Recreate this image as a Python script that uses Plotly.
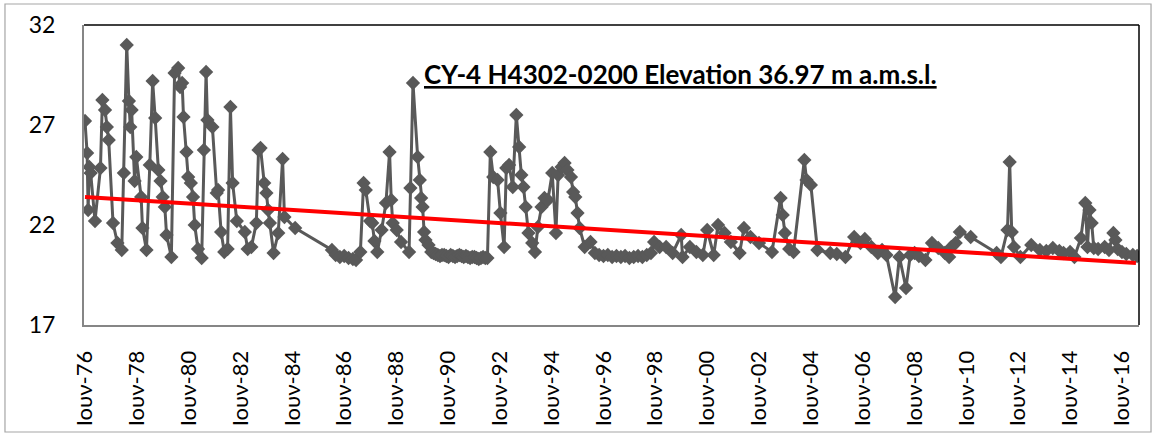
import plotly.graph_objects as go

# ---- data ----
dates = [
    "1976-06-01", "1976-07-01", "1976-07-15", "1976-08-01", "1976-08-20", "1976-10-20",
    "1977-01-05", "1977-02-01", "1977-03-10", "1977-04-05", "1977-05-01", "1977-07-01", "1977-09-01", "1977-11-01", "1977-12-01",
    "1978-01-10", "1978-02-10", "1978-03-01", "1978-03-20", "1978-05-01", "1978-05-25", "1978-08-01", "1978-08-20", "1978-10-15", "1978-12-01",
    "1979-01-10", "1979-02-15", "1979-04-01", "1979-05-01", "1979-06-01", "1979-07-01", "1979-07-25", "1979-10-01", "1979-11-15",
    "1980-01-05", "1980-02-01", "1980-03-01", "1980-03-20", "1980-05-01", "1980-05-25", "1980-07-01", "1980-08-01", "1980-08-25", "1980-10-10", "1980-12-01",
    "1981-01-01", "1981-02-01", "1981-02-20", "1981-05-01", "1981-07-01", "1981-07-20", "1981-09-01", "1981-10-15", "1981-12-01",
    "1982-01-10", "1982-02-10", "1982-04-10", "1982-08-01", "1982-09-10", "1982-11-01",
    "1983-01-10", "1983-02-10", "1983-03-10", "1983-05-01", "1983-06-01", "1983-06-25", "1983-07-20", "1983-09-10", "1983-11-15",
    "1984-01-15", "1984-02-10", "1984-07-10",
    "1985-12-10", "1986-02-01", "1986-04-01", "1986-06-01", "1986-08-01", "1986-10-01", "1986-11-15", "1987-01-15",
    "1987-03-01", "1987-04-01", "1987-06-01", "1987-07-01", "1987-08-01", "1987-09-10", "1987-11-10",
    "1988-01-10", "1988-03-01", "1988-03-25", "1988-04-15", "1988-06-10", "1988-08-10", "1988-12-01", "1988-12-20",
    "1989-01-25", "1989-04-01", "1989-05-01", "1989-05-20", "1989-06-10", "1989-07-01", "1989-07-20", "1989-09-01", "1989-10-10",
    "1989-11-10", "1989-12-10",
    "1990-01-10", "1990-02-10", "1990-03-10", "1990-04-10", "1990-05-10", "1990-06-10",
    "1990-07-10", "1990-08-10", "1990-09-10", "1990-10-10", "1990-11-10", "1990-12-10",
    "1991-01-10", "1991-02-10", "1991-03-10", "1991-04-10", "1991-05-10", "1991-06-10",
    "1991-07-10", "1991-08-10", "1991-09-10", "1991-10-10", "1991-11-10", "1991-12-10",
    "1992-01-20", "1992-03-01", "1992-05-01", "1992-06-10", "1992-08-01", "1992-09-01", "1992-10-10", "1992-12-01",
    "1993-01-20", "1993-03-01", "1993-04-01", "1993-05-01", "1993-06-01", "1993-07-10", "1993-09-01", "1993-10-10", "1993-11-20",
    "1994-01-10", "1994-02-20", "1994-04-10", "1994-06-10", "1994-08-01", "1994-09-01", "1994-10-20", "1994-12-01",
    "1995-01-10", "1995-03-01", "1995-04-01", "1995-05-01", "1995-06-01", "1995-07-01", "1995-09-10", "1995-12-01",
    "1996-02-01", "1996-04-01", "1996-06-01", "1996-08-01", "1996-10-01", "1996-12-01",
    "1997-02-01", "1997-04-01", "1997-06-01", "1997-08-01", "1997-10-01", "1997-12-01",
    "1998-02-01", "1998-04-01", "1998-05-15", "1998-08-01", "1998-11-01",
    "1999-02-01", "1999-06-01", "1999-06-20", "1999-10-01",
    "2000-01-01", "2000-04-01", "2000-06-01", "2000-09-01", "2000-11-01",
    "2001-02-01", "2001-05-01", "2001-09-01", "2001-11-01",
    "2002-02-01", "2002-06-01", "2002-12-01",
    "2003-04-01", "2003-05-01", "2003-06-01", "2003-08-01", "2003-10-01",
    "2004-03-01", "2004-04-01", "2004-06-01", "2004-09-01",
    "2005-03-01", "2005-06-01", "2005-10-01",
    "2006-02-01", "2006-05-01", "2006-07-01", "2006-10-01",
    "2007-01-01", "2007-03-01", "2007-05-01", "2007-09-01", "2007-11-01",
    "2008-02-01", "2008-04-01", "2008-06-01", "2008-08-01", "2008-11-01",
    "2009-02-01", "2009-05-01", "2009-08-01", "2009-10-01", "2009-11-01",
    "2010-01-01", "2010-03-01", "2010-08-01",
    "2011-08-01", "2011-10-01",
    "2012-01-01", "2012-02-01", "2012-03-01", "2012-04-01", "2012-07-01", "2012-12-01",
    "2013-04-01", "2013-07-01", "2013-10-01",
    "2014-01-01", "2014-03-01", "2014-06-01", "2014-08-01", "2014-11-01",
    "2015-01-01", "2015-02-01", "2015-03-01", "2015-04-01", "2015-05-01", "2015-07-01", "2015-10-01", "2015-12-01",
    "2016-02-01", "2016-03-01", "2016-04-01", "2016-06-01", "2016-08-01", "2016-11-01", "2017-01-01",
]
levels = [
    27.2, 25.6, 22.75, 24.9, 24.6, 22.2,
    24.85, 28.25, 27.75, 26.9, 26.25, 22.1, 21.1, 20.75, 24.6,
    31.0, 28.2, 26.9, 27.75, 24.2, 25.4, 23.4, 21.85, 20.75, 25.0,
    29.2, 27.35, 24.75, 24.2, 23.4, 22.9, 21.5, 20.4, 29.6,
    29.85, 28.9, 29.1, 27.4, 25.65, 24.4, 24.1, 23.4, 22.0, 20.8, 20.35,
    25.75, 29.65, 27.25, 26.9, 23.6, 23.75, 21.65, 20.65, 20.8,
    27.9, 24.1, 22.2, 21.65, 20.8, 20.9,
    22.1, 25.75, 25.85, 24.1, 23.6, 22.75, 22.1, 20.6, 21.6,
    25.3, 22.4, 21.85,
    20.75, 20.5, 20.4, 20.45, 20.35, 20.3, 20.25, 20.65,
    24.1, 23.75, 22.2, 22.1, 21.2, 20.65, 21.75,
    23.1, 25.65, 23.25, 22.1, 21.75, 21.15, 20.65, 23.85,
    29.1, 25.4, 24.25, 23.35, 22.9, 21.65, 21.25, 21.0, 20.65,
    20.6, 20.55,
    20.5, 20.45, 20.5, 20.5, 20.45, 20.4,
    20.5, 20.45, 20.4, 20.45, 20.5, 20.45,
    20.4, 20.45, 20.4, 20.35, 20.4, 20.4,
    20.35, 20.3, 20.35, 20.4, 20.35, 20.35,
    25.65, 24.4, 24.25, 22.6, 20.9, 24.85, 25.0, 23.9,
    27.5, 25.9, 24.5, 23.9, 22.9, 21.6, 21.1, 20.65, 21.9,
    22.9, 23.35, 23.25, 24.6, 21.6, 24.5, 24.9, 25.1,
    24.75, 24.4, 23.65, 23.4, 22.6, 21.85, 20.9, 21.15,
    20.6, 20.5, 20.45, 20.5, 20.4, 20.45,
    20.4, 20.45, 20.35, 20.4, 20.45, 20.4,
    20.5, 20.6, 21.15, 20.9, 20.9,
    20.6, 21.5, 20.4, 20.9,
    20.65, 20.5, 21.75, 20.5, 22.0,
    21.6, 21.15, 20.6, 21.85,
    21.4, 21.1, 20.65,
    23.35, 22.5, 21.6, 20.8, 20.65,
    25.25, 24.25, 24.0, 20.75,
    20.6, 20.55, 20.4,
    21.4, 21.1, 21.3, 20.9,
    20.6, 20.75, 20.5, 18.4, 20.4,
    18.85, 20.5, 20.6, 20.45, 20.25,
    21.1, 20.85, 20.6, 20.4, 20.9,
    21.1, 21.65, 21.4,
    20.6, 20.4,
    21.75, 25.15, 21.65, 20.9, 20.4, 21.0,
    20.75, 20.7, 20.85,
    20.7, 20.6, 20.65, 20.4, 21.35,
    23.1, 20.9, 22.75, 22.1, 20.85, 20.8, 20.9, 20.75,
    21.6, 21.25, 20.8, 20.65, 20.55, 20.5, 20.45,
]
trend_dates = ["1976-06-01", "2016-12-15"]
trend_levels = [23.4, 20.1]

y_ticks = [17, 22, 27, 32]
x_tick_dates = ["1976-06-01", "1978-06-01", "1980-06-01", "1982-06-01", "1984-06-01",
                "1986-06-01", "1988-06-01", "1990-06-01", "1992-06-01", "1994-06-01",
                "1996-06-01", "1998-06-01", "2000-06-01", "2002-06-01", "2004-06-01",
                "2006-06-01", "2008-06-01", "2010-06-01", "2012-06-01", "2014-06-01",
                "2016-06-01"]
x_tick_labels = ["Ιουν-76", "Ιουν-78", "Ιουν-80", "Ιουν-82", "Ιουν-84",
                 "Ιουν-86", "Ιουν-88", "Ιουν-90", "Ιουν-92", "Ιουν-94",
                 "Ιουν-96", "Ιουν-98", "Ιουν-00", "Ιουν-02", "Ιουν-04",
                 "Ιουν-06", "Ιουν-08", "Ιουν-10", "Ιουν-12", "Ιουν-14",
                 "Ιουν-16"]
title_text = "CY-4 H4302-0200 Elevation 36.97 m a.m.s.l."

FONT = "Lato, 'Open Sans', sans-serif"

fig = go.Figure()
fig.add_trace(go.Scatter(
    x=dates, y=levels, mode="lines+markers",
    line=dict(color="#595959", width=3),
    marker=dict(symbol="diamond", size=11, color="#595959"),
    showlegend=False, hoverinfo="x+y",
))
fig.add_trace(go.Scatter(
    x=trend_dates, y=trend_levels, mode="lines",
    line=dict(color="#FF0000", width=4),
    showlegend=False,
))

fig.update_layout(
    width=1156, height=434,
    margin=dict(l=84, r=17, t=25, b=109, autoexpand=False),
    paper_bgcolor="white", plot_bgcolor="white",
    font=dict(family=FONT, size=22, color="black"),
    xaxis=dict(
        type="date", range=["1976-05-18", "2017-01-27"], automargin=False,
        tickmode="array", tickvals=x_tick_dates, ticktext=x_tick_labels,
        tickangle=-90, showgrid=False, zeroline=False,
        showline=True, linecolor="#868686", linewidth=2,
        ticks="outside", ticklen=15, tickcolor="rgba(0,0,0,0)",
        tickfont=dict(family=FONT, size=22, color="black"),
    ),
    yaxis=dict(
        range=[17, 32], tickmode="array", tickvals=y_ticks, automargin=False,
        showgrid=False, zeroline=False,
        showline=True, linecolor="#868686", linewidth=2,
        ticks="outside", ticklen=22, tickcolor="rgba(0,0,0,0)",
        tickfont=dict(family=FONT, size=23, color="black"),
    ),
    shapes=[
        # top and right borders of the plot area
        dict(type="line", xref="paper", yref="paper", x0=0, x1=1, y0=1, y1=1,
             line=dict(color="black", width=1.5)),
        dict(type="line", xref="paper", yref="paper", x0=1, x1=1, y0=0, y1=1,
             line=dict(color="black", width=1.5)),
        # outer chart border
        dict(type="rect", xref="paper", yref="paper",
             x0=-0.0749, x1=1.0114, y0=-0.3567, y1=1.07,
             line=dict(color="#A6A6A6", width=1.2), layer="below"),
    ],
    annotations=[
        dict(text="<b><u>" + title_text + "</u></b>", xref="paper", yref="paper",
             x=0.565, y=0.838, xanchor="center", yanchor="middle",
             showarrow=False, font=dict(family=FONT, size=26, color="black")),
    ],
)

fig.write_html("out.html",
               config={"displayModeBar": False},
               post_script="document.body.style.margin='0';document.body.style.padding='0';")
